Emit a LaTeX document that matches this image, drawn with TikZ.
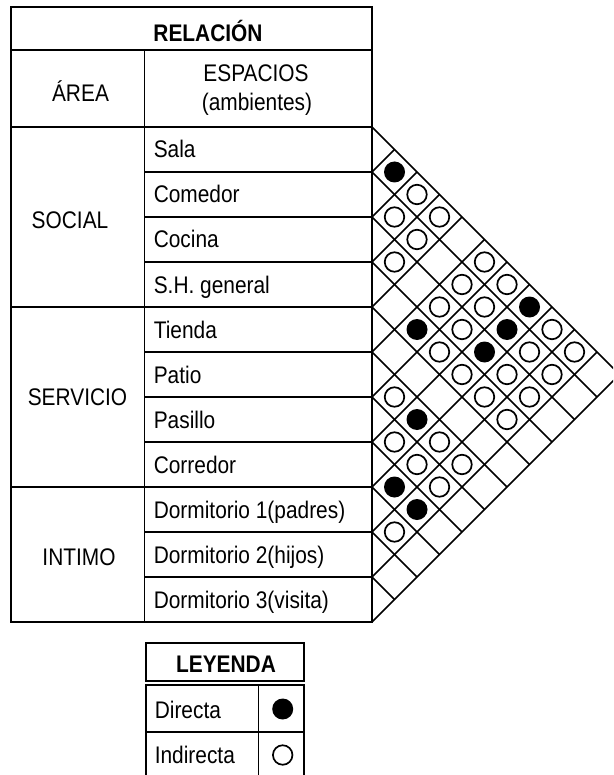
\documentclass[tikz,border=0pt]{standalone}
\usepackage{fontspec}
\setmainfont{Liberation Sans}[FakeStretch=0.87]
\begin{document}
\begin{tikzpicture}[x=1pt, y=-1pt, line width=1.6pt,
	txt/.style={inner sep=0pt, font=\fontsize{24}{27}\selectfont},
	dir/.style={circle, fill=black, minimum size=21pt, inner sep=0pt},
	ind/.style={circle, draw, line width=1.7pt, fill=white, minimum size=19.5pt, inner sep=0pt}]
	\clip (0,0) rectangle (613,775);
	%Tableau
	\draw (11,7) rectangle (372,622);
	\draw (11,50) -- (372,50);
	\draw (11,127) -- (372,127);
	\draw (144.5,50) -- (144.5,622);
	\draw (11,307) -- (144.5,307);
	\draw (11,487) -- (144.5,487);
	\foreach \k in {1,...,10}
		\draw (144.5,127+45*\k) -- (372,127+45*\k);
	\node[txt, font=\fontsize{24}{27}\selectfont\bfseries, anchor=base] (Rel) at (208,41.7) {RELACIÓN};
	\node[txt, anchor=base] (Area) at (80.5,101.7) {ÁREA};
	\node[txt, anchor=base] (Esp) at (256,81.7) {ESPACIOS};
	\node[txt, anchor=base] (Amb) at (257,110.2) {(ambientes)};
	\node[txt, anchor=base] (Social) at (70,229) {SOCIAL};
	\node[txt, anchor=base] (Servicio) at (77.5,405.5) {SERVICIO};
	\node[txt, anchor=base] (Intimo) at (79,565) {INTIMO};
	%Espacios
	\foreach \n [count=\i] in {Sala, Comedor, Cocina, S.H. general, Tienda, Patio, Pasillo, Corredor, Dormitorio 1(padres), Dormitorio 2(hijos), Dormitorio 3(visita)}
		\node[txt, anchor=base west] (E\i) at (153,127+45*\i-22.5+8.5) {\n};
	%Matriz de relaciones
	\foreach \k in {0,...,11} {
		\pgfmathsetmacro\yk{127+45*\k}
		\draw (372,\yk) -- ++({(622-\yk)/2},{(622-\yk)/2});
		\draw (372,\yk) -- ++({(\yk-127)/2},{-(\yk-127)/2});
	}
	\foreach \i/\j in {1/2, 1/8, 2/8, 3/8, 4/6, 6/8, 8/9, 8/10}
		\node[dir] (R\i-\j) at ({372+22.5*(\j-\i)},{127+22.5*(\i+\j-1)}) {};
	\foreach \i/\j in {1/3, 1/4, 1/6, 1/7, 1/9, 1/10, 2/3, 2/4, 2/6, 2/7, 2/9, 2/10, 3/4, 3/6, 3/7, 3/9, 3/10, 4/7, 4/8, 4/9, 4/10, 6/7, 6/9, 6/10, 7/8, 7/9, 7/10, 9/10}
		\node[ind] (R\i-\j) at ({372+22.5*(\j-\i)},{127+22.5*(\i+\j-1)}) {};
	%Leyenda
	\draw (146,643) rectangle (304,681);
	\draw (146,685) rectangle (304,779);
	\draw (146,732) -- (304,732);
	\draw (258.3,685) -- (258.3,779);
	\node[txt, font=\fontsize{24}{27}\selectfont\bfseries, anchor=base] (Ley) at (226,672) {LEYENDA};
	\node[txt, anchor=base west] (Dir) at (154,718.5) {Directa};
	\node[dir] (DirS) at (282.7,709) {};
	\node[txt, anchor=base west] (Ind) at (154,763.5) {Indirecta};
	\node[ind] (IndS) at (282.7,755) {};
\end{tikzpicture}
\end{document}
